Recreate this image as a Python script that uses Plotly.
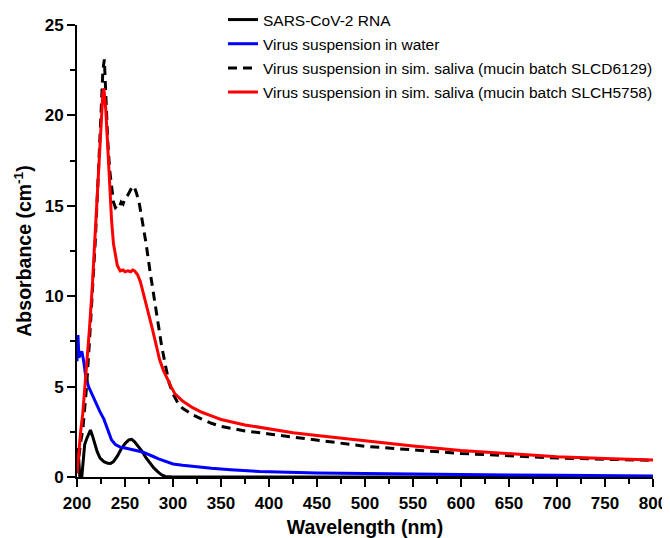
import plotly.graph_objects as go

# SARS-CoV-2 RNA
rna_wl = [200, 201, 202, 203, 205, 206, 207, 208, 210, 212, 214, 216, 218, 221, 224, 228, 232, 235, 238, 242, 246, 250, 254, 257, 260, 264, 268, 272, 276, 280, 284, 288, 292, 296, 300, 400, 500, 600, 700, 800]
rna_abs = [1.2, 1.6, 0.8, 0.0, 0.0, 0.5, 1.3, 1.8, 2.1, 2.4, 2.6, 2.3, 1.9, 1.4, 1.05, 0.85, 0.76, 0.75, 0.85, 1.15, 1.55, 1.85, 2.05, 2.08, 1.95, 1.7, 1.4, 1.05, 0.75, 0.5, 0.3, 0.12, 0.03, 0.0, 0.0, 0.0, 0.0, 0.0, 0.0, 0.0]

# Virus suspension in water
water_wl = [200, 201, 202, 204, 205, 207, 209, 212, 216, 220, 224, 228, 232, 236, 240, 245, 250, 255, 260, 265, 270, 275, 280, 285, 290, 295, 300, 310, 320, 340, 360, 390, 420, 450, 500, 550, 600, 650, 700, 750, 800]
water_abs = [6.4, 7.85, 6.6, 6.8, 6.95, 6.4, 5.6, 5.0, 4.5, 4.0, 3.6, 3.2, 2.6, 2.05, 1.8, 1.65, 1.6, 1.55, 1.5, 1.42, 1.35, 1.25, 1.12, 1.0, 0.9, 0.8, 0.72, 0.65, 0.58, 0.48, 0.4, 0.3, 0.26, 0.22, 0.2, 0.16, 0.13, 0.11, 0.09, 0.08, 0.06]

# Virus suspension in sim. saliva (mucin batch SLCD6129)
slcd_wl = [200, 202, 204, 206, 208, 210, 213, 216, 219, 222, 225, 227, 228.5, 230, 232, 234, 236, 238, 240, 242, 244, 246, 248, 250, 253, 256, 258, 260, 262, 265, 268, 272, 276, 280, 284, 288, 292, 296, 300, 305, 310, 320, 330, 340, 350, 375, 400, 425, 450, 500, 550, 600, 650, 700, 750, 800]
slcd_abs = [0.3, 1.2, 2.0, 2.6, 3.8, 5.0, 7.5, 10.0, 13.0, 16.5, 20.5, 22.5, 23.1, 21.0, 18.6, 17.0, 16.0, 15.2, 14.9, 15.0, 14.9, 15.2, 15.1, 15.4, 15.6, 15.9, 16.1, 16.0, 15.7, 15.1, 14.2, 12.9, 11.4, 10.0, 8.6, 7.3, 6.2, 5.2, 4.6, 4.1, 3.8, 3.45, 3.2, 2.97, 2.8, 2.55, 2.38, 2.2, 2.05, 1.7, 1.5, 1.3, 1.18, 1.05, 0.98, 0.92]

# Virus suspension in sim. saliva (mucin batch SLCH5758)
slch_wl = [200, 202, 204, 206, 208, 210, 213, 216, 219, 222, 225, 227, 228, 230, 232, 234, 236, 238, 240, 242, 245, 248, 250, 253, 256, 258, 260, 263, 266, 270, 274, 278, 282, 286, 290, 294, 298, 302, 310, 320, 330, 340, 350, 375, 400, 425, 450, 500, 550, 600, 650, 700, 750, 800]
slch_abs = [0.2, 1.5, 2.6, 3.5, 4.8, 6.0, 8.2, 10.6, 13.5, 16.8, 19.8, 21.3, 21.5, 20.3, 18.3, 16.0, 14.2, 12.9, 12.2, 11.7, 11.4, 11.45, 11.35, 11.4, 11.35, 11.45, 11.4, 11.2, 10.8, 10.0, 9.2, 8.3, 7.4, 6.5, 5.9, 5.4, 5.0, 4.6, 4.2, 3.85, 3.58, 3.38, 3.18, 2.88, 2.65, 2.45, 2.3, 2.0, 1.72, 1.47, 1.3, 1.12, 1.02, 0.94]

names = [
    "SARS-CoV-2 RNA",
    "Virus suspension in water",
    "Virus suspension in sim. saliva (mucin batch SLCD6129)",
    "Virus suspension in sim. saliva (mucin batch SLCH5758)",
]

fig = go.Figure()
fig.add_trace(go.Scatter(x=rna_wl, y=rna_abs, mode="lines", name=names[0], legendgroup="a",
                         line=dict(color="black", width=3)))
fig.add_trace(go.Scatter(x=water_wl, y=water_abs, mode="lines", name=names[1], legendgroup="b",
                         line=dict(color="#0000ff", width=3)))
fig.add_trace(go.Scatter(x=slcd_wl, y=slcd_abs, mode="lines", name=names[2], legendgroup="c",
                         line=dict(color="black", width=3, dash="9px,6px")))
fig.add_trace(go.Scatter(x=slch_wl, y=slch_abs, mode="lines", name=names[3], legendgroup="d",
                         line=dict(color="#ff0000", width=3)))

axis_common = dict(
    showline=True, linecolor="black", linewidth=2, showgrid=False, zeroline=False,
    ticks="outside", tickwidth=2, tickcolor="black", ticklen=8, automargin=False,
    tickfont=dict(family="Arial, Liberation Sans", size=17, color="black", weight="bold"),
)

fig.update_xaxes(range=[200, 800], dtick=50, tick0=200, ticklabelstandoff=2,
                 minor=dict(dtick=25, tick0=200, ticks="outside", ticklen=5, tickwidth=2, tickcolor="black"),
                 title=dict(text="<b>Wavelength (nm)</b>", font=dict(family="Arial, Liberation Sans", size=19.5, color="black"), standoff=21),
                 **axis_common)
fig.update_yaxes(range=[0, 25], dtick=5, tick0=0,
                 minor=dict(dtick=2.5, tick0=0, ticks="outside", ticklen=5, tickwidth=2, tickcolor="black"),
                 title=dict(text="<b>Absorbance (cm<sup>-1</sup>)</b>", font=dict(family="Arial, Liberation Sans", size=19.5, color="black"), standoff=8),
                 **axis_common)

# page body has an 8px default margin; the figure is sized to fill the rest of the 670x538 window
fig.update_layout(
    width=662, height=530,
    margin=dict(l=69, r=17, t=17, b=61, autoexpand=False),
    plot_bgcolor="white", paper_bgcolor="white",
    legend=dict(x=(223 - 77) / 576, y=1 + 22 / 452, xanchor="left", yanchor="top",
                font=dict(family="Arial, Liberation Sans", size=15.5, color="black"),
                bgcolor="rgba(0,0,0,0)", tracegroupgap=1, traceorder="grouped"),
    showlegend=True,
)

fig.write_html("out.html")
